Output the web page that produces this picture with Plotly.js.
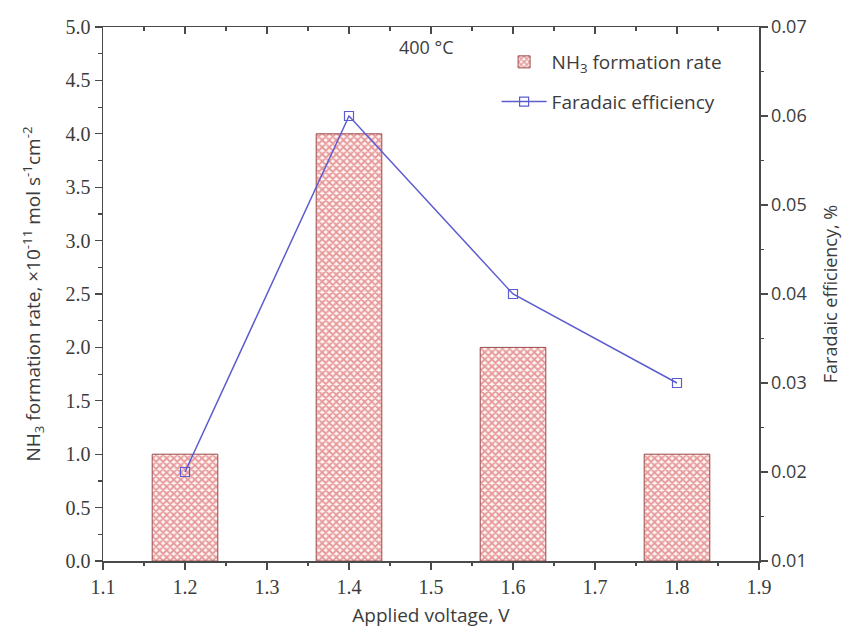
<!DOCTYPE html>
<html>
<head>
<meta charset="utf-8">
<script src="https://cdn.plot.ly/plotly-3.0.1.min.js"></script>
<style>html,body{margin:0;padding:0;background:#fff;}#chart{width:853px;height:635px;}</style>
</head>
<body>
<div id="chart"></div>
<script>
const voltage = [1.2, 1.4, 1.6, 1.8];
const nh3Rate = [1.0, 4.0, 2.0, 1.0];
const faradaicEff = [0.02, 0.06, 0.04, 0.03];
const xRange = [1.1, 1.9];
const yLeftRange = [0, 5];
const yRightRange = [0.01, 0.07];

const serif = 'Liberation Serif, Times New Roman, serif';
const sans = 'Open Sans, Noto Sans, sans-serif';
const txt = '#3c3c3c';
const axc = '#4a4a4a';

function ghost(xa, ya) {
  return {type: 'scatter', x: [voltage[0]], y: [nh3Rate[0]], mode: 'markers', marker: {opacity: 0},
          showlegend: false, hoverinfo: 'skip', xaxis: xa, yaxis: ya};
}

const traces = [
  {
    type: 'bar', x: voltage, y: nh3Rate, width: 0.08,
    name: 'NH<sub>3</sub> formation rate', legendgroup: 'a',
    marker: {
      color: '#ffffff',
      line: {color: '#9a4a4a', width: 1},
      pattern: {shape: 'x', fgcolor: '#e69a9a', bgcolor: '#fff4f4', size: 5, solidity: 0.6}
    },
    xaxis: 'x', yaxis: 'y'
  },
  {
    type: 'scatter', mode: 'lines+markers', x: voltage, y: faradaicEff,
    name: 'Faradaic efficiency', legendgroup: 'b',
    line: {color: '#5c5cd0', width: 1.5},
    marker: {symbol: 'square-open', size: 9, color: '#5c5cd0', line: {width: 1.2}},
    xaxis: 'x', yaxis: 'y2'
  },
  ghost('x2', 'y'), ghost('x3', 'y'), ghost('x4', 'y'), ghost('x', 'y3'), ghost('x', 'y4')
];

const minorBase = {ticks: 'outside', ticklen: 4, tickwidth: 1.2, tickcolor: axc, tickmode: 'linear',
  showticklabels: false, showline: false, showgrid: false, zeroline: false};

const layout = {
  width: 853, height: 635,
  margin: {l: 103, r: 94, t: 27, b: 74},
  paper_bgcolor: '#fff', plot_bgcolor: '#fff',
  font: {family: sans, size: 18, color: txt},
  showlegend: true,
  legend: {
    x: 0.6, y: 0.97, xanchor: 'left', yanchor: 'top',
    bgcolor: 'rgba(0,0,0,0)', font: {family: sans, size: 19, color: txt},
    tracegroupgap: 12, itemwidth: 45
  },
  xaxis: {
    range: xRange, tickmode: 'linear', tick0: 1.1, dtick: 0.1, tickformat: '.1f',
    ticks: 'outside', ticklen: 7, tickwidth: 1.3, tickcolor: axc,
    showline: true, linecolor: axc, linewidth: 1.5, showgrid: false, zeroline: false,
    tickfont: {family: serif, size: 20, color: txt},
    title: {text: 'Applied voltage, V', font: {family: sans, size: 19, color: txt}, standoff: 12}
  },
  xaxis2: Object.assign({}, minorBase, {overlaying: 'x', side: 'top', anchor: 'y', range: xRange,
    tick0: 1.1, dtick: 0.1, ticks: 'inside', ticklen: 7, showline: true, linecolor: axc, linewidth: 1.5}),
  xaxis3: Object.assign({}, minorBase, {overlaying: 'x', side: 'bottom', anchor: 'y', range: xRange,
    tick0: 1.1, dtick: 0.05}),
  xaxis4: Object.assign({}, minorBase, {overlaying: 'x', side: 'top', anchor: 'y', range: xRange,
    tick0: 1.1, dtick: 0.05, ticks: 'inside'}),
  yaxis: {
    range: yLeftRange, tickmode: 'linear', tick0: 0, dtick: 0.5, tickformat: '.1f',
    ticks: 'outside', ticklen: 7, tickwidth: 1.3, tickcolor: axc,
    showline: true, linecolor: axc, linewidth: 1.5, showgrid: false, zeroline: false,
    tickfont: {family: serif, size: 20, color: txt},
    title: {text: 'NH<sub>3</sub> formation rate, ×10<sup>-11</sup> mol s<sup>-1</sup>cm<sup>-2</sup>',
            font: {family: sans, size: 19, color: txt}, standoff: 20}
  },
  yaxis2: {
    overlaying: 'y', side: 'right', range: yRightRange, tickmode: 'linear', tick0: 0.01, dtick: 0.01,
    tickformat: '.2f',
    ticks: 'outside', ticklen: 7, tickwidth: 1.3, tickcolor: axc,
    showline: true, linecolor: axc, linewidth: 1.5, showgrid: false, zeroline: false,
    tickfont: {family: sans, size: 18, color: txt},
    title: {text: 'Faradaic efficiency, %', font: {family: sans, size: 18, color: txt}, standoff: 18}
  },
  yaxis3: Object.assign({}, minorBase, {overlaying: 'y', side: 'left', anchor: 'x', range: yLeftRange,
    tick0: 0, dtick: 0.25}),
  yaxis4: Object.assign({}, minorBase, {overlaying: 'y', side: 'right', anchor: 'x', range: yRightRange,
    tick0: 0.01, dtick: 0.005}),
  annotations: [
    {text: '400 °C', xref: 'x', yref: 'y', x: 1.495, y: 4.81, showarrow: false,
     font: {family: sans, size: 18, color: txt}}
  ]
};

Plotly.newPlot('chart', traces, layout, {displayModeBar: false, staticPlot: true});
</script>
</body>
</html>
